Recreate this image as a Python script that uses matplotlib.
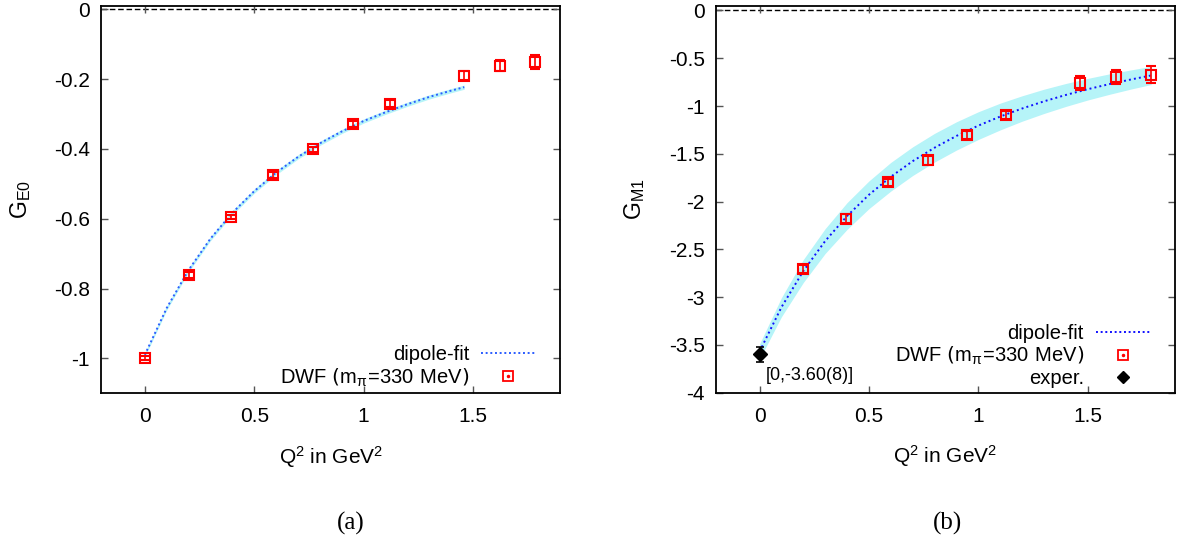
import numpy as np
import matplotlib
matplotlib.use("Agg")
import matplotlib.pyplot as plt
from matplotlib.lines import Line2D
from matplotlib.ticker import FuncFormatter

plt.rcParams["font.family"] = ["Liberation Sans", "DejaVu Sans"]
plt.rcParams["mathtext.default"] = "regular"
plt.rcParams["axes.unicode_minus"] = False

# ---- data ----
q2 = [0.0, 0.2, 0.396, 0.586, 0.77, 0.95, 1.12, 1.46, 1.625, 1.785]
ge0 = [-1.0, -0.761, -0.595, -0.474, -0.401, -0.328, -0.27, -0.19, -0.161, -0.15]
ge0_err = [0.006, 0.008, 0.007, 0.008, 0.007, 0.008, 0.01, 0.012, 0.015, 0.02]

# dipole fit for G_E0
fit_a_q2 = [0.0, 0.1, 0.2, 0.3, 0.4, 0.5, 0.6, 0.7, 0.8, 0.9, 1.0, 1.1, 1.2, 1.3, 1.4, 1.46]
fit_a = [-0.99, -0.856, -0.747, -0.657, -0.583, -0.521, -0.468, -0.423,
         -0.384, -0.350, -0.320, -0.295, -0.272, -0.251, -0.233, -0.223]
fit_a_hw = [0.006] * len(fit_a_q2)

q2_b = [0.2, 0.395, 0.588, 0.77, 0.95, 1.125, 1.466, 1.63, 1.79]
gm1 = [-2.705, -2.18, -1.80, -1.567, -1.30, -1.095, -0.76, -0.694, -0.67]
gm1_err = [0.045, 0.045, 0.04, 0.045, 0.04, 0.045, 0.075, 0.075, 0.09]

# dipole fit for G_M1 and the width of its error band
fit_b_q2 = [0.0, 0.1, 0.2, 0.3, 0.4, 0.5, 0.6, 0.7, 0.8, 0.9, 1.0,
            1.1, 1.2, 1.3, 1.4, 1.5, 1.6, 1.7, 1.79]
fit_b = [-3.57, -3.106, -2.727, -2.413, -2.151, -1.929, -1.740, -1.577, -1.436,
         -1.313, -1.205, -1.110, -1.026, -0.951, -0.884, -0.824, -0.770, -0.721, -0.680]
fit_b_hw = [0.08, 0.10, 0.12, 0.13, 0.14, 0.145, 0.15, 0.15, 0.15, 0.148, 0.145,
            0.14, 0.133, 0.127, 0.12, 0.113, 0.107, 0.10, 0.095]

exp_q2 = [0.0]
exp_gm1 = [-3.60]
exp_err = [0.08]

yticks_a = [0, -0.2, -0.4, -0.6, -0.8, -1]
yticks_b = [0, -0.5, -1, -1.5, -2, -2.5, -3, -3.5, -4]
xticks = [0, 0.5, 1, 1.5]

RED = "#ff0000"
BAND = "#b6f4f8"

fig = plt.figure(figsize=(11.79, 5.43), dpi=100)
ax1 = fig.add_axes([0.0857, 0.2757, 0.3897, 0.7136])
ax2 = fig.add_axes([0.6071, 0.2768, 0.3897, 0.7127])

fmt = FuncFormatter(lambda v, p: "%g" % v)


def style(ax, yticks, ylim, ylabel):
    ax.set_xlim(-0.2, 1.9)
    ax.set_ylim(*ylim)
    ax.set_xticks(xticks)
    ax.set_yticks(yticks)
    ax.xaxis.set_major_formatter(fmt)
    ax.yaxis.set_major_formatter(fmt)
    ax.tick_params(direction="in", top=True, right=True, length=5, width=1,
                   labelsize=15, color="#555555")
    ax.tick_params(axis="x", pad=10)
    ax.tick_params(axis="y", pad=8)
    for s in ax.spines.values():
        s.set_linewidth(1.3)
    ax.axhline(0, color="black", lw=1.0, ls=(0, (4, 2)), zorder=1)
    ax.set_xlabel("Q$^2$ in GeV$^2$", fontsize=15)
    ax.xaxis.set_label_coords(0.5, -0.164)
    ax.xaxis.label.set_va("center")
    ax.set_ylabel(ylabel, fontsize=16.5)
    ax.yaxis.set_label_coords(-0.176, 0.5)
    ax.yaxis.label.set_va("center")


def legend(ax, with_exp, fitcolor):
    h_fit = Line2D([], [], color=fitcolor, lw=1.4, ls=(0, (1, 1.4)))
    h_box = Line2D([], [], ls="none", marker="s", ms=7, mfc="none", mec=RED, mew=1.3)
    h_dot = Line2D([], [], ls="none", marker="o", ms=1.5, color=RED)
    handles = [h_fit, (h_box, h_dot)]
    labels = ["dipole-fit", r"DWF $\left(m_{\pi}\!=\!330\ MeV\right)$"]
    if with_exp:
        handles.append(Line2D([], [], ls="none", marker="D", ms=6.5, color="black"))
        labels.append("exper.")
    ax.legend(handles, labels, loc="lower right", bbox_to_anchor=(0.946, 0.012),
              frameon=False, markerfirst=False, fontsize=14.5, handlelength=2.7,
              handletextpad=0.6, labelspacing=0.1, borderpad=0, borderaxespad=0)


# ---- panel (a) ----
lo = np.array(fit_a) - np.array(fit_a_hw)
hi = np.array(fit_a) + np.array(fit_a_hw)
ax1.fill_between(fit_a_q2, lo, hi, color=BAND, lw=0, zorder=2)
ax1.plot(fit_a_q2, fit_a, color="#2a5cff", lw=1.4, ls=(0, (1, 1.4)), zorder=3)
ax1.errorbar(q2, ge0, yerr=ge0_err, fmt="s", ms=7.5, mfc="none", mec=RED, mew=1.5,
             ecolor=RED, elinewidth=1.2, capsize=3.5, capthick=1.2, zorder=4)
style(ax1, yticks_a, (-1.1, 0.01), "G$_{E0}$")
legend(ax1, False, "#2a5cff")

# ---- panel (b) ----
lo = np.array(fit_b) - np.array(fit_b_hw)
hi = np.array(fit_b) + np.array(fit_b_hw)
ax2.fill_between(fit_b_q2, lo, hi, color=BAND, lw=0, zorder=2)
ax2.plot(fit_b_q2, fit_b, color="#1010ff", lw=1.4, ls=(0, (1, 1.6)), zorder=3)
ax2.errorbar(q2_b, gm1, yerr=gm1_err, fmt="s", ms=7.5, mfc="none", mec=RED, mew=1.5,
             ecolor=RED, elinewidth=1.2, capsize=3.5, capthick=1.2, zorder=4)
ax2.errorbar(exp_q2, exp_gm1, yerr=exp_err, fmt="D", ms=7, color="black",
             elinewidth=1.2, capsize=3, capthick=1.2, zorder=5)
ax2.text(0.027, -3.815, "[0,-3.60(8)]", fontsize=13, ha="left", va="center")
style(ax2, yticks_b, (-4, 0.05), "G$_{M1}$")
legend(ax2, True, "#1010ff")

fig.text(350.7 / 1179, 1 - 523 / 543, "(a)", ha="center", va="center",
         fontsize=18, family="Liberation Serif")
fig.text(947 / 1179, 1 - 523 / 543, "(b)", ha="center", va="center",
         fontsize=18, family="Liberation Serif")

fig.savefig("out.png", dpi=100)
